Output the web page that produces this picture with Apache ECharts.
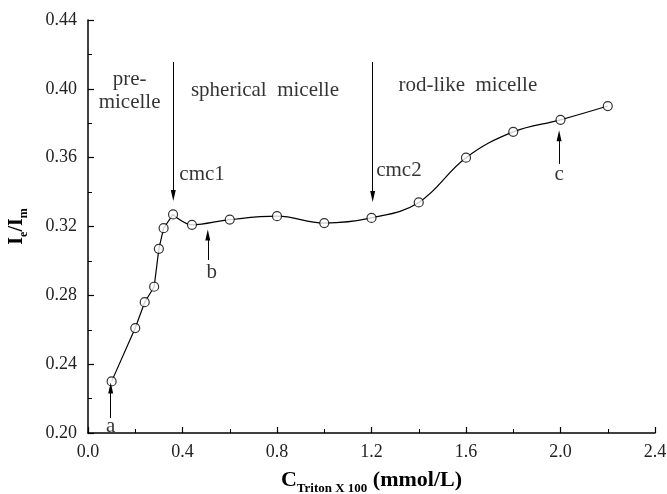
<!DOCTYPE html>
<html>
<head>
<meta charset="utf-8">
<script src="https://cdn.jsdelivr.net/npm/echarts@6/dist/echarts.min.js"></script>
<style>
  html, body { margin: 0; padding: 0; background: #fff; }
  #chart { width: 667px; height: 494px; }
</style>
</head>
<body>
<div id="chart"></div>
<script>
// measured points (x: mmol/L, y: Ie/Im)
const xValues = [0.1, 0.2, 0.24, 0.28, 0.3, 0.32, 0.36, 0.44, 0.6, 0.8, 1.0, 1.2, 1.4, 1.6, 1.8, 2.0, 2.2];
const yValues = [0.230, 0.261, 0.276, 0.285, 0.307, 0.319, 0.327, 0.321, 0.324, 0.326, 0.322, 0.325, 0.334, 0.360, 0.375, 0.382, 0.390];
// straight segments up to cmc1, smooth curve after it
const cornerIndex = 6;

const xTicks = [0, 0.4, 0.8, 1.2, 1.6, 2.0, 2.4];
const yTicks = [0.20, 0.24, 0.28, 0.32, 0.36, 0.40, 0.44];

// text annotations: [x, y, text]
const notes = [
  [0.176, 0.399, 'pre-\nmicelle'],
  [0.749, 0.399, 'spherical  micelle'],
  [1.608, 0.402, 'rod-like  micelle'],
  [0.483, 0.350, 'cmc1'],
  [1.316, 0.3525, 'cmc2'],
  [0.524, 0.293, 'b'],
  [1.994, 0.350, 'c'],
  [0.096, 0.2035, 'a']
];

// arrows: [x, from y, to y (tip)]
const arrows = [
  [0.361, 0.4156, 0.338],
  [1.205, 0.4156, 0.3375],
  [0.507, 0.3005, 0.315],
  [1.994, 0.3564, 0.3727],
  [0.096, 0.2087, 0.2261]
];

const points = xValues.map((x, i) => [x, yValues[i]]);
const serif = '"Liberation Serif", "DejaVu Serif", serif';

const chart = echarts.init(document.getElementById('chart'));

const option = {
  animation: false,
  grid: { left: 88, right: 12, top: 20, bottom: 61, containLabel: false, outerBoundsMode: 'none' },
  xAxis: {
    type: 'value',
    min: xTicks[0],
    max: xTicks[xTicks.length - 1],
    interval: xTicks[1] - xTicks[0],
    axisLine: { lineStyle: { color: '#000', width: 1.5 } },
    axisTick: { inside: true, length: 6, lineStyle: { color: '#000', width: 1.2 } },
    minorTick: { show: true, splitNumber: 2, length: 4, lineStyle: { color: '#000', width: 1 } },
    splitLine: { show: false },
    axisLabel: {
      margin: 10,
      color: '#222',
      fontFamily: serif,
      fontSize: 18,
      formatter: v => v.toFixed(1)
    },
    name: '{b|C}{s|Triton X 100}{b| (mmol/L)}',
    nameLocation: 'middle',
    nameGap: 32,
    nameTextStyle: {
      rich: {
        b: { fontFamily: serif, fontWeight: 'bold', fontSize: 22, lineHeight: 30, verticalAlign: 'middle', color: '#000' },
        s: { fontFamily: serif, fontWeight: 'bold', fontSize: 13, lineHeight: 13, verticalAlign: 'bottom', color: '#000' }
      }
    }
  },
  yAxis: {
    type: 'value',
    min: yTicks[0],
    max: yTicks[yTicks.length - 1],
    interval: 0.04,
    axisLine: { show: true, lineStyle: { color: '#000', width: 1.5 } },
    axisTick: { show: true, inside: true, length: 6, lineStyle: { color: '#000', width: 1.2 } },
    minorTick: { show: true, splitNumber: 2, length: 4, lineStyle: { color: '#000', width: 1 } },
    splitLine: { show: false },
    axisLabel: {
      margin: 11,
      color: '#222',
      fontFamily: serif,
      fontSize: 18,
      formatter: v => v.toFixed(2)
    },
    name: '{b|I}{s|e}{b|/I}{s|m}',
    nameLocation: 'middle',
    nameGap: 58,
    nameTextStyle: {
      rich: {
        b: { fontFamily: serif, fontWeight: 'bold', fontSize: 20, lineHeight: 26, verticalAlign: 'middle', color: '#000' },
        s: { fontFamily: serif, fontWeight: 'bold', fontSize: 12, lineHeight: 12, verticalAlign: 'bottom', color: '#000' }
      }
    }
  },
  series: [
    {
      type: 'line',
      data: points.slice(0, cornerIndex + 1),
      showSymbol: false,
      lineStyle: { color: '#000', width: 1.2 },
      z: 2
    },
    {
      type: 'line',
      data: points.slice(cornerIndex),
      smooth: 0.4,
      showSymbol: false,
      lineStyle: { color: '#000', width: 1.2 },
      z: 2
    },
    {
      type: 'scatter',
      data: points,
      symbol: 'circle',
      symbolSize: 9,
      itemStyle: { color: '#fff', borderColor: '#000', borderWidth: 1.2 },
      z: 3
    },
    {
      type: 'scatter',
      data: notes.map(n => ({ value: [n[0], n[1]], name: n[2] })),
      symbolSize: 0,
      silent: true,
      label: {
        show: true,
        position: 'inside',
        align: 'center',
        verticalAlign: 'middle',
        formatter: p => p.name,
        fontFamily: serif,
        fontSize: 21,
        lineHeight: 23,
        color: '#000',
        textBorderWidth: 0,
        textBorderColor: 'transparent'
      },
      markLine: {
        silent: true,
        animation: false,
        label: { show: false },
        lineStyle: { color: '#000', width: 1, type: 'solid' },
        data: arrows.map(a => [
          { coord: [a[0], a[1]], symbol: 'none' },
          { coord: [a[0], a[2]], symbol: 'triangle', symbolSize: [5, 11] }
        ])
      },
      z: 4
    }
  ]
};

chart.setOption(option);
</script>
</body>
</html>
